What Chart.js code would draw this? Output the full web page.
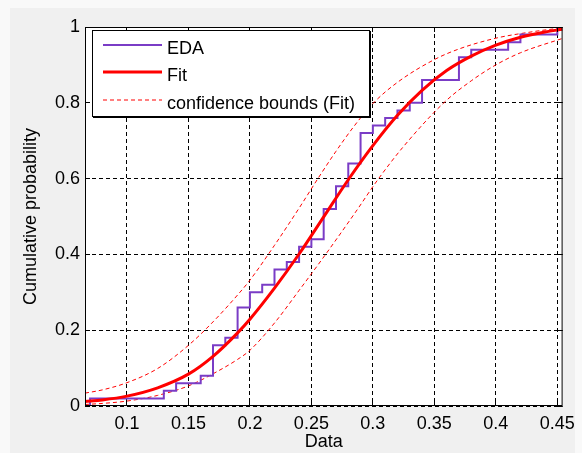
<!DOCTYPE html>
<html><head><meta charset="utf-8">
<script src="https://cdn.jsdelivr.net/npm/chart.js@4/dist/chart.umd.min.js"></script>
<style>html,body{margin:0;padding:0;background:#f9f9f9;overflow:hidden}canvas{display:block}</style>
</head><body>
<canvas id="c" width="582" height="453" style="width:582px;height:453px"></canvas>
<script>
// ---- data ----
const xTicks = [0.1, 0.15, 0.2, 0.25, 0.3, 0.35, 0.4, 0.45];
const xTickLabels = ['0.1', '0.15', '0.2', '0.25', '0.3', '0.35', '0.4', '0.45'];
const yTicks = [0, 0.2, 0.4, 0.6, 0.8, 1];
const yTickLabels = ['0', '0.2', '0.4', '0.6', '0.8', '1'];
const xMin = 0.0659, xMax = 0.4543;

const edaX = [0.07, 0.07, 0.13, 0.14, 0.16, 0.17, 0.18, 0.19, 0.20, 0.21, 0.22, 0.23, 0.24, 0.25, 0.26, 0.27, 0.28, 0.29, 0.30, 0.31, 0.32, 0.33, 0.34, 0.37, 0.38, 0.41, 0.42, 0.45];
const edaY = [0, 0.02, 0.04, 0.06, 0.08, 0.16, 0.18, 0.26, 0.30, 0.32, 0.36, 0.38, 0.42, 0.44, 0.52, 0.58, 0.64, 0.72, 0.74, 0.76, 0.78, 0.80, 0.86, 0.92, 0.94, 0.96, 0.98, 1.00];

const fitX = [0.0659, 0.08, 0.10, 0.125, 0.15, 0.17, 0.19, 0.20, 0.22, 0.24, 0.26, 0.28, 0.30, 0.32, 0.34, 0.36, 0.38, 0.40, 0.42, 0.44, 0.4543];
const fitY = [0.012, 0.016, 0.026, 0.048, 0.084, 0.131, 0.193, 0.229, 0.311, 0.401, 0.499, 0.597, 0.687, 0.767, 0.833, 0.885, 0.923, 0.952, 0.973, 0.987, 0.994];

const upX = [0.0659, 0.08, 0.10, 0.125, 0.15, 0.17, 0.19, 0.20, 0.22, 0.24, 0.255, 0.27, 0.285, 0.30, 0.32, 0.35, 0.37, 0.40, 0.42, 0.45, 0.4543];
const upY = [0.034, 0.0425, 0.0615, 0.099, 0.160, 0.222, 0.293, 0.332, 0.424, 0.522, 0.5985, 0.672, 0.7395, 0.798, 0.854, 0.914, 0.942, 0.9705, 0.9825, 0.996, 0.997];

const loX = [0.0659, 0.08, 0.10, 0.125, 0.15, 0.17, 0.19, 0.20, 0.22, 0.24, 0.262, 0.286, 0.304, 0.325, 0.3587, 0.38, 0.40, 0.42, 0.4543];
const loY = [0.004, 0.0068, 0.013, 0.028, 0.053, 0.085, 0.123, 0.147, 0.219, 0.305, 0.402, 0.512, 0.597, 0.685, 0.803, 0.858, 0.900, 0.932, 0.970];

const pts = (xs, ys) => xs.map((x, i) => ({x, y: ys[i]}));

const FONT = '"Liberation Sans", Arial, sans-serif';
Chart.defaults.font.family = FONT;
Chart.defaults.font.size = 18;
Chart.defaults.color = '#000';

const matlabPlugin = {
  id: 'matlab',
  beforeDraw(chart) {
    const {ctx, chartArea: a} = chart;
    ctx.save();
    ctx.fillStyle = '#f9f9f9';
    ctx.fillRect(0, 0, chart.width, chart.height);
    ctx.fillStyle = '#f0f0f0';
    ctx.fillRect(10, 8, 565, 445);
    ctx.fillStyle = '#ffffff';
    ctx.fillRect(a.left, a.top, a.right - a.left, a.bottom - a.top);
    ctx.restore();
  },
  afterDraw(chart) {
    const {ctx, chartArea: a, scales} = chart;
    ctx.save();
    ctx.strokeStyle = '#000';
    ctx.lineWidth = 1;
    ctx.setLineDash([]);
    ctx.beginPath();
    for (const v of xTicks) {
      const px = Math.round(scales.x.getPixelForValue(v) - 0.5) + 0.5;
      ctx.moveTo(px, a.bottom); ctx.lineTo(px, a.bottom - 5);
      ctx.moveTo(px, a.top); ctx.lineTo(px, a.top + 5);
    }
    for (const v of yTicks) {
      const py = Math.round(scales.y.getPixelForValue(v) - 0.5) + 0.5;
      ctx.moveTo(a.left, py); ctx.lineTo(a.left + 5, py);
      ctx.moveTo(a.right, py); ctx.lineTo(a.right - 5, py);
    }
    ctx.stroke();
    ctx.strokeRect(a.left + 0.5, a.top + 0.5, a.right - a.left - 1, a.bottom - a.top - 1);

    // legend
    ctx.fillStyle = '#ffffff';
    ctx.fillRect(92, 30, 278, 87);
    ctx.strokeStyle = '#000';
    ctx.lineWidth = 1;
    ctx.strokeRect(92.5, 30.5, 277, 86);
    ctx.beginPath();
    ctx.moveTo(370.5, 31); ctx.lineTo(370.5, 118);
    ctx.moveTo(93, 117.5); ctx.lineTo(371, 117.5);
    ctx.stroke();
    const rows = [45, 72, 100];
    ctx.font = '18px ' + FONT;
    ctx.textBaseline = 'alphabetic';
    ctx.textAlign = 'left';
    chart.data.datasets.slice(0, 3).forEach((ds, i) => {
      const y = rows[i];
      ctx.strokeStyle = ds.borderColor;
      ctx.lineWidth = ds.borderWidth;
      ctx.setLineDash(ds.borderDash || []);
      ctx.beginPath();
      ctx.moveTo(103, y); ctx.lineTo(162, y);
      ctx.stroke();
      ctx.setLineDash([]);
      ctx.fillStyle = '#000';
      ctx.fillText(ds.label, 167, y + 9);
    });
    ctx.restore();
  }
};

new Chart(document.getElementById('c'), {
  type: 'line',
  data: {
    datasets: [
      {label: 'EDA', data: pts(edaX, edaY), borderColor: '#7a3cc6', borderWidth: 2, stepped: 'before', pointRadius: 0, fill: false, order: 1},
      {label: 'Fit', data: pts(fitX, fitY), borderColor: '#ff0000', borderWidth: 3, cubicInterpolationMode: 'monotone', pointRadius: 0, fill: false, order: 0},
      {label: 'confidence bounds (Fit)', data: pts(upX, upY), borderColor: '#ff0000', borderWidth: 1, borderDash: [4, 3], cubicInterpolationMode: 'monotone', pointRadius: 0, fill: false, order: 2},
      {label: '', data: pts(loX, loY), borderColor: '#ff0000', borderWidth: 1, borderDash: [4, 3], cubicInterpolationMode: 'monotone', pointRadius: 0, fill: false, order: 2}
    ]
  },
  options: {
    responsive: false,
    animation: false,
    devicePixelRatio: 1,
    layout: {padding: {left: 0, top: 27, right: 15, bottom: 0}},
    plugins: {legend: {display: false}, tooltip: {enabled: false}},
    scales: {
      x: {
        type: 'linear', min: xMin, max: xMax,
        afterBuildTicks: s => { s.ticks = xTicks.map(v => ({value: v})); },
        afterFit: s => { s.height = 47; },
        ticks: {padding: 7, autoSkip: false, maxRotation: 0, callback: (v, i) => xTickLabels[i]},
        grid: {color: '#000', lineWidth: 1, drawTicks: false},
        border: {display: false, dash: [4, 3]},
        title: {display: true, text: 'Data', padding: {top: 0, bottom: 0}, color: '#000'}
      },
      y: {
        type: 'linear', min: 0, max: 1,
        afterBuildTicks: s => { s.ticks = yTicks.map(v => ({value: v})); },
        afterFit: s => { s.width = 85; },
        ticks: {padding: 5, autoSkip: false, callback: (v, i) => yTickLabels[i]},
        grid: {color: '#000', lineWidth: 1, drawTicks: false},
        border: {display: false, dash: [4, 3]},
        title: {display: true, text: 'Cumulative probability', padding: {top: 20, bottom: 0}, color: '#000'}
      }
    }
  },
  plugins: [matlabPlugin]
});
</script>
</body></html>
